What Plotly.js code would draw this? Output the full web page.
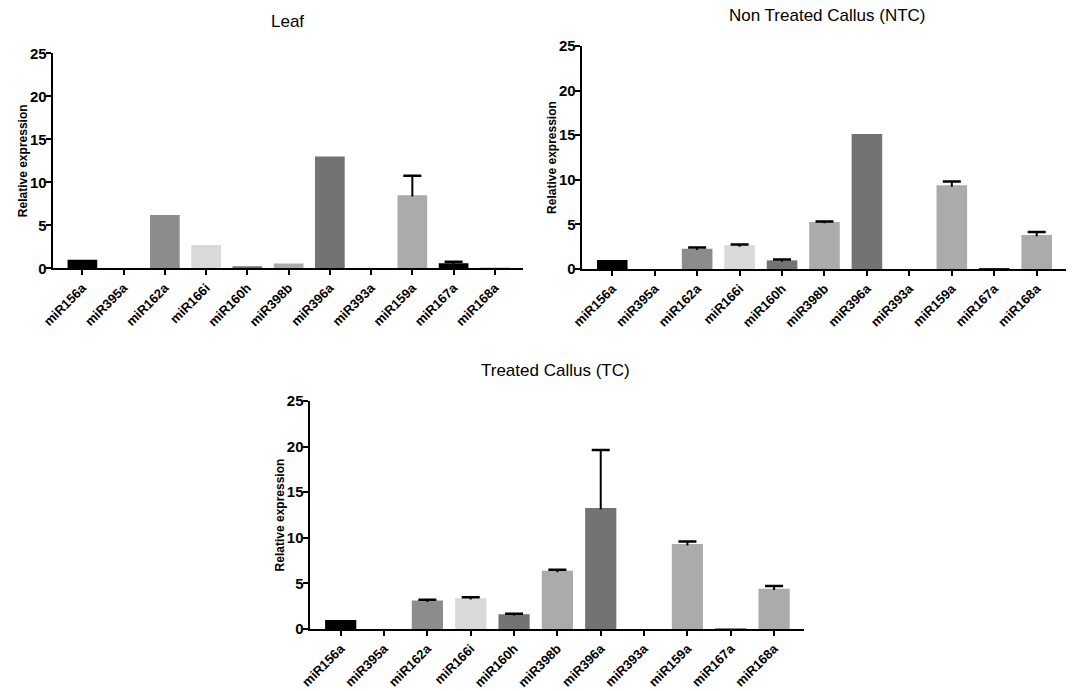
<!DOCTYPE html>
<html>
<head>
<meta charset="utf-8">
<script src="https://cdn.plot.ly/plotly-3.0.1.min.js"></script>
<style>html,body{margin:0;padding:0;background:#fff;}#chart{width:1077px;height:691px;}</style>
</head>
<body>
<div id="chart"></div>
<script>
const categories = ["miR156a","miR395a","miR162a","miR166i","miR160h","miR398b","miR396a","miR393a","miR159a","miR167a","miR168a"];
const barColors = ["#000000","#888888","#8c8c8c","#d9d9d9","#737373","#ababab","#737373","#888888","#ababab","#000000","#ababab"];

const leafValues = [1.0, 0, 6.2, 2.72, 0.25, 0.55, 13.0, 0, 8.5, 0.6, 0.1];
const leafErrors = [null, null, null, null, null, null, null, null, 2.25, 0.17, null];

const ntcValues = [1.0, 0, 2.28, 2.65, 0.97, 5.27, 15.13, 0, 9.38, 0.1, 3.81];
const ntcErrors = [null, null, 0.12, 0.1, 0.1, 0.05, null, null, 0.42, null, 0.33];

const tcValues = [1.0, 0, 3.12, 3.38, 1.62, 6.38, 13.28, 0, 9.32, 0.05, 4.42];
const tcErrors = [null, null, 0.1, 0.1, 0.05, 0.13, 6.35, null, 0.28, null, 0.3];

const panelTitles = ["Leaf", "Non Treated Callus (NTC)", "Treated Callus (TC)"];
const yTitle = "Relative expression";
const yTicks = [0, 5, 10, 15, 20, 25];

const FONT = "Arial, 'Liberation Sans', Helvetica, sans-serif";

function barTrace(vals, xa, ya) {
  return {
    type: "bar",
    x: categories,
    y: vals,
    xaxis: xa,
    yaxis: ya,
    width: 0.72,
    marker: {color: barColors, line: {width: 0}},
    showlegend: false,
    hoverinfo: "x+y"
  };
}

// Upper-only error bars (mean + SD): a stem from the bar top, and a single cap at its end
function errorStem(vals, errs, xa, ya) {
  const idx = errs.map((e, i) => (e === null ? -1 : i)).filter(i => i >= 0);
  return {
    type: "scatter", mode: "markers",
    x: idx.map(i => categories[i]),
    y: idx.map(i => vals[i]),
    xaxis: xa, yaxis: ya,
    marker: {size: 1, opacity: 0},
    error_y: {
      type: "data", symmetric: false,
      array: idx.map(i => errs[i]),
      arrayminus: idx.map(() => 0.15),
      color: "#000", thickness: 2, width: 0
    },
    showlegend: false, hoverinfo: "skip"
  };
}
function errorCap(vals, errs, xa, ya) {
  const idx = errs.map((e, i) => (e === null ? -1 : i)).filter(i => i >= 0);
  return {
    type: "scatter", mode: "markers",
    x: idx.map(i => categories[i]),
    y: idx.map(i => vals[i] + errs[i]),
    xaxis: xa, yaxis: ya,
    marker: {size: 1, opacity: 0},
    error_y: {
      type: "data", symmetric: true,
      array: idx.map(() => 0),
      color: "#000", thickness: 2.5, width: 9
    },
    showlegend: false, hoverinfo: "skip"
  };
}

function xAxis(domain, anchor) {
  return {
    domain: domain,
    anchor: anchor,
    type: "category",
    categoryorder: "array",
    categoryarray: categories,
    range: [-0.72, 10.69],
    showline: true,
    linecolor: "#000",
    linewidth: 2,
    ticks: "outside",
    ticklen: 5,
    tickwidth: 2,
    tickcolor: "#000",
    tickangle: -45,
    tickfont: {family: FONT, size: 13, color: "#000", weight: "bold"},
    showgrid: false,
    zeroline: false,
    fixedrange: true
  };
}

function yAxis(domain, anchor) {
  return {
    domain: domain,
    anchor: anchor,
    range: [0, 25],
    tickvals: yTicks,
    ticktext: yTicks.map(String),
    showline: true,
    linecolor: "#000",
    linewidth: 2,
    ticks: "outside",
    ticklen: 5,
    tickwidth: 2,
    tickcolor: "#000",
    ticklabelstandoff: -4,
    tickfont: {family: FONT, size: 15, color: "#000", weight: "bold"},
    showgrid: false,
    zeroline: false,
    title: {text: yTitle, font: {family: FONT, size: 12, color: "#000", weight: "bold"}, standoff: 0},
    fixedrange: true
  };
}

const W = 1077, H = 691;
const data = [
  barTrace(leafValues, "x", "y"),
  barTrace(ntcValues, "x2", "y2"),
  barTrace(tcValues, "x3", "y3"),
  errorStem(leafValues, leafErrors, "x", "y"),
  errorStem(ntcValues, ntcErrors, "x2", "y2"),
  errorStem(tcValues, tcErrors, "x3", "y3"),
  errorCap(leafValues, leafErrors, "x", "y"),
  errorCap(ntcValues, ntcErrors, "x2", "y2"),
  errorCap(tcValues, tcErrors, "x3", "y3")
];

const layout = {
  width: W,
  height: H,
  margin: {l: 0, r: 0, t: 0, b: 0},
  paper_bgcolor: "#fff",
  plot_bgcolor: "#fff",
  font: {family: FONT, color: "#000"},
  xaxis: xAxis([52.7 / W, 523.3 / W], "y"),
  yaxis: yAxis([1 - 268.3 / H, 1 - 53.3 / H], "x"),
  xaxis2: xAxis([581.7 / W, 1066 / W], "y2"),
  yaxis2: yAxis([1 - 269 / H, 1 - 46 / H], "x2"),
  xaxis3: xAxis([309.5 / W, 804 / W], "y3"),
  yaxis3: yAxis([1 - 629 / H, 1 - 401 / H], "x3"),
  annotations: [
    {text: panelTitles[0], x: 287 / W, y: 1 - 22 / H},
    {text: panelTitles[1], x: 827 / W, y: 1 - 15 / H},
    {text: panelTitles[2], x: 555 / W, y: 1 - 370 / H}
  ].map(a => Object.assign(a, {
    xref: "paper", yref: "paper", xanchor: "center", yanchor: "middle",
    showarrow: false, font: {family: FONT, size: 17, color: "#000"}
  }))
};

Plotly.newPlot("chart", data, layout, {displayModeBar: false, staticPlot: true});
</script>
</body>
</html>
